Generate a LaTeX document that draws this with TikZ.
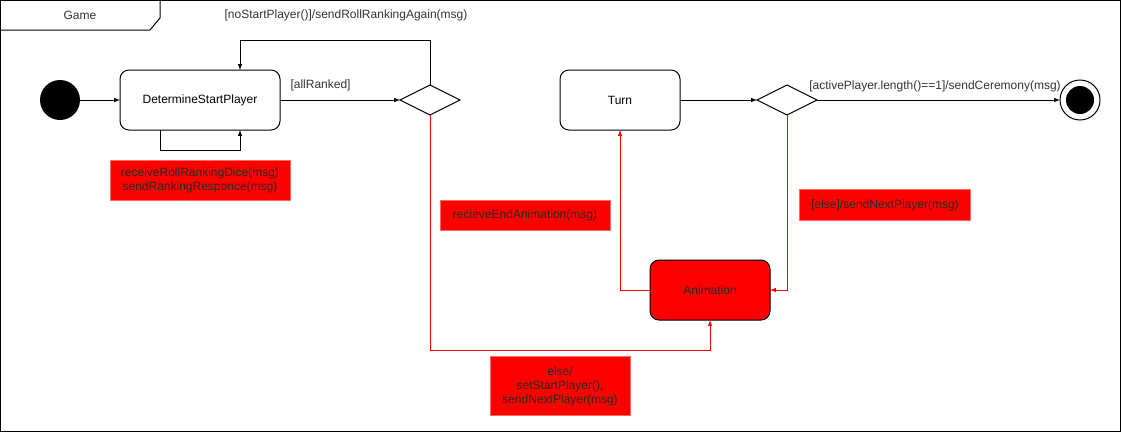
\documentclass[tikz,border=0pt]{standalone}
\usepackage{fontspec}
\setmainfont{Liberation Sans}
\usetikzlibrary{shapes.geometric}
\definecolor{notered}{HTML}{FF0000}
\definecolor{noteedge}{HTML}{FF6666}
\definecolor{labelgray}{HTML}{333333}
\tikzset{
	state/.style={draw, rounded corners=9pt, minimum height=60pt, inner sep=0pt, outer sep=0pt},
	choice/.style={draw, diamond, minimum width=60pt, minimum height=30pt, inner sep=0pt, outer sep=0pt},
	note/.style={fill=notered, draw=noteedge, align=center, inner sep=0pt, text=black!85},
	guard/.style={text=labelgray, inner sep=1pt},
	redline/.style={->, draw=notered, color=notered}
}
\begin{document}
\begin{tikzpicture}[x=1pt, y=-1pt, >=latex, line width=1pt, font=\fontsize{12}{14}\selectfont]
		\useasboundingbox (0,0) rectangle (1121,432);
		% frame with tab
		\draw (0.5,0.5) rectangle (1120.5,431.5);
		\draw (0.5,30) -- (150,30) -- (160,18) -- (160,0.5);
		\node[guard] (game) at (80,15) {Game};
		% states
		\node[fill, circle, minimum size=40pt, inner sep=0pt, outer sep=0pt] (init) at (60,100) {};
		\node[state, minimum width=160pt] (dsp) at (200,100) {DetermineStartPlayer};
		\node[choice] (ch1) at (430,100) {};
		\node[state, minimum width=120pt] (turn) at (620,100) {Turn};
		\node[choice] (ch2) at (787,100) {};
		\node[draw, circle, minimum size=40pt, inner sep=0pt, outer sep=0pt] (final) at (1080,100) {};
		\node[fill, circle, minimum size=28pt, inner sep=0pt] (finaldot) at (final) {};
		\node[state, fill=notered, minimum width=120pt, text=black!85] (anim) at (710,290) {Animation};
		% transitions
		\draw[->] (init) -- (dsp);
		\draw[->] ([xshift=-40pt]dsp.south) -- ++(0,20) -| ([xshift=40pt]dsp.south);
		\draw[->] (dsp) -- (ch1);
		\draw[->] (ch1.north) -- ++(0,-45) -| ([xshift=40pt]dsp.north);
		\draw[redline] (ch1.south) -- ++(0,235) -| (anim.south);
		\draw[redline] (anim.west) -| (turn.south);
		\draw[->] (turn) -- (ch2);
		\draw[redline] (ch2.south) |- (anim.east);
		\draw[->] (ch2) -- (final);
		% labels
		\node[guard] (norank) at (346,15) {[noStartPlayer()]/sendRollRankingAgain(msg)};
		\node[guard, anchor=west] (ranked) at (289,85) {[allRanked]};
		\node[guard] (ceremony) at (935,86) {[activePlayer.length()==1]/sendCeremony(msg)};
		\node[note, minimum width=180pt, minimum height=40pt] (rollnote) at (200,180)
		{receiveRollRankingDice(msg)\\sendRankingResponce(msg)};
		\node[note, minimum width=170pt, minimum height=30pt] (endnote) at (525,215) {recieveEndAnimation(msg)};
		\node[note, minimum width=140pt, minimum height=59pt] (elsenote) at (560,386)
		{else/\\setStartPlayer(),\\sendNextPlayer(msg)};
		\node[note, minimum width=171pt, minimum height=31pt] (nextnote) at (885,205) {[else]/sendNextPlayer(msg)};
	\end{tikzpicture}
\end{document}
